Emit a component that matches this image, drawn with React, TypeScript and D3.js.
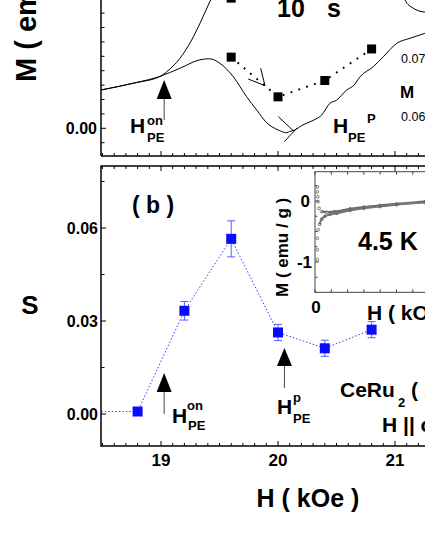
import React from 'react';
import * as d3 from 'd3';

// panel (b): S vs H
const sH = [18.4, 18.8, 19.2, 19.6, 20.0, 20.4, 20.8];
const sVal = [0.0008, 0.0008, 0.0333, 0.0565, 0.0263, 0.0212, 0.0272];
const sErr = [0, 0, 0.003, 0.0058, 0.0026, 0.0026, 0.0026];

// panel (a): M vs H curves (left axis units)
const curveLowH = [18.487, 18.763, 19.0, 19.162, 19.333, 19.413, 19.504, 19.618, 19.732, 19.818, 19.903, 20.003, 20.074, 20.1, 20.145, 20.2, 20.245, 20.3, 20.373, 20.444, 20.5, 20.587, 20.65, 20.701, 20.815, 20.9, 21.015, 21.128, 21.256];
const curveLowM = [0.0266, 0.0313, 0.0363, 0.0417, 0.0476, 0.0483, 0.0451, 0.0358, 0.0219, 0.0127, 0.0039, -0.0012, -0.0031, -0.0022, -0.0012, 0.0018, 0.0035, 0.0055, 0.0092, 0.0174, 0.0195, 0.0266, 0.0300, 0.0358, 0.0428, 0.0497, 0.0590, 0.0625, 0.0660];
const curveUpH = [18.487, 18.763, 19.0, 19.049, 19.162, 19.262, 19.333, 19.404, 19.444];
const curveUpM = [0.0266, 0.0313, 0.0363, 0.0393, 0.0486, 0.0613, 0.0729, 0.0856, 0.0926];
const curveRetH = [21.07, 21.085, 21.154, 21.256];
const curveRetM = [0.095, 0.0891, 0.0835, 0.0806];

// panel (a): squares on right axis
const sqH = [19.6, 20.0, 20.4, 20.8];
const sqM = [0.0702, 0.0634, 0.0662, 0.0716];
const sqTopH = [19.6];
const sqTopM = [0.0803];
const rightTicks = ['0.07', '0.06'];
const rightTickVals = [0.07, 0.06];

// inset: M vs H at 4.5 K
const inUpH = [0.14, 0.14, 0.17, 0.18, 0.25, 0.41, 0.72, 1.2, 2.15, 3.0, 3.99, 5.0, 6.75, 8.0];
const inUpM = [0.23, 0.15, 0.07, -0.01, -0.12, -0.175, -0.185, -0.175, -0.13, -0.1, -0.074, -0.05, -0.011, 0.01];
const inLowH = [0.14, 0.14, 0.14, 0.2, 0.29, 0.41, 0.61, 0.92, 1.35, 2.15, 3.0, 3.99, 5.0, 6.75, 8.0];
const inLowM = [-0.96, -0.8, -0.61, -0.47, -0.38, -0.3, -0.25, -0.22, -0.2, -0.155, -0.12, -0.09, -0.06, -0.025, -0.005];

const xTicks = [19, 20, 21];
const sTicks = [0.0, 0.03, 0.06];
const sTickLabels = ['0.00', '0.03', '0.06'];

const font = '"Liberation Sans", Arial, sans-serif';

function HLabel(props: { x: number; y: number; sup: string; supX: number; supY: number; subX: number; subY: number }) {
  return (
    <g fontFamily={font} fontWeight="bold" fill="#000">
      <text x={props.x} y={props.y} fontSize={21}>H</text>
      <text x={props.supX} y={props.supY} fontSize={13}>{props.sup}</text>
      <text x={props.subX} y={props.subY} fontSize={13}>PE</text>
    </g>
  );
}

export default function App() {
  const x = d3.scaleLinear().domain([19, 21]).range([161, 395]);
  const left = 101;
  const right = 470;

  // panel a
  const yA = d3.scaleLinear().domain([0, 0.01]).range([128.3, 113.9]);
  const yAR = d3.scaleLinear().domain([0.06, 0.07]).range([116.7, 58.3]);
  const aBottom = 156;
  // panel b
  const yB = d3.scaleLinear().domain([0, 0.06]).range([414, 228]);
  const bTop = 166, bBottom = 446;
  // inset
  const xI = d3.scaleLinear().domain([0, 1]).range([315, 331.3]);
  const yI = d3.scaleLinear().domain([0, -1]).range([201, 262]);
  const iTop = 171.7, iBottom = 292.3, iLeft = 315, iRight = 520;

  const minor = d3.range(18.5, 21.75, 0.1).map(v => Math.round(v * 10) / 10);

  const lineA = (hs: number[], ms: number[]) =>
    d3.line<number>().x((_, i) => x(hs[i])).y((_, i) => yA(ms[i])).curve(d3.curveMonotoneX)(hs) || '';
  const lineB = d3.line<number>().x((_, i) => x(sH[i])).y((_, i) => yB(sVal[i]))(sH) || '';
  const lineSq = d3.line<number>().x((_, i) => x(sqH[i])).y((_, i) => yAR(sqM[i]))(sqH) || '';
  const lineI = (hs: number[], ms: number[]) =>
    d3.line<number>().x((_, i) => xI(hs[i])).y((_, i) => yI(ms[i])).curve(d3.curveMonotoneY)(hs) || '';

  const aTicks = d3.range(-0.01, 0.105, 0.01);
  const bTicks = d3.range(-0.0, 0.08, 0.015);
  const iYTicks = d3.range(-1.5, 0.5, 0.25);
  const iXTicks = d3.range(0, 13, 1);

  // filled arrow pointing up with a stem below it
  const arrowUp = (px: number, py: number, tipDrop: number, stemEnd: number) => {
    const baseY = py + tipDrop;
    return (
      <g>
        <line x1={px} x2={px} y1={baseY} y2={stemEnd} stroke="#444" strokeWidth={1} />
        <path d={`M${px},${py} L${px - 7.5},${baseY} L${px + 7.5},${baseY} Z`} fill="#000" />
      </g>
    );
  };

  return (
    <svg width={425} height={550} style={{ position: 'absolute', left: 0, top: 0, background: '#fff' }}>
      <defs>
        <clipPath id="clipA"><rect x={left} y={-30} width={right - left} height={aBottom + 30} /></clipPath>
        <clipPath id="clipB"><rect x={left} y={bTop} width={right - left} height={bBottom - bTop} /></clipPath>
      </defs>

      {/* ---------- panel (a) ---------- */}
      <g clipPath="url(#clipA)">
        <path d={lineA(curveLowH, curveLowM)} fill="none" stroke="#000" strokeWidth={1} />
        <path d={lineA(curveUpH, curveUpM)} fill="none" stroke="#000" strokeWidth={1} />
        <path d={lineA(curveRetH, curveRetM)} fill="none" stroke="#000" strokeWidth={1} />
        <path d={lineSq} fill="none" stroke="#000" strokeWidth={2} strokeDasharray="1.8 6.5" />
        {sqH.map((h, i) => (
          <rect key={i} x={x(h) - 4.5} y={yAR(sqM[i]) - 4.5} width={9} height={9} fill="#000" />
        ))}
        {sqTopH.map((h, i) => (
          <rect key={i} x={x(h) - 4.5} y={yAR(sqTopM[i]) - 4.5} width={9} height={9} fill="#000" />
        ))}
        {/* open arrowhead */}
        <path d={`M${x(19.852)},${yA(0.0417)} L${x(19.889)},${yA(0.0296)} L${x(19.746)},${yA(0.0342)}`} fill="none" stroke="#000" strokeWidth={1} />
        <line x1={x(20.003)} y1={yA(0.0081)} x2={x(20.131)} y2={yA(-0.0017)} stroke="#000" strokeWidth={1} />
        <line x1={x(20.054)} y1={yA(-0.0093)} x2={x(20.16)} y2={yA(0.0)} stroke="#000" strokeWidth={1} />
      </g>
      {arrowUp(x(19.027), yA(0.0335), 19, yA(0.0058))}
      <line x1={left} x2={right} y1={aBottom} y2={aBottom} stroke="#000" strokeWidth={1.5} />
      <line x1={left} x2={left} y1={-5} y2={aBottom} stroke="#000" strokeWidth={1.5} />
      {aTicks.map((t, i) => (
        <line key={i} x1={left} x2={left + (Math.abs(t) < 1e-9 ? 5 : 3.5)} y1={yA(t)} y2={yA(t)} stroke="#000" strokeWidth={1} />
      ))}
      {minor.map((m, i) => (
        <line key={i} x1={x(m)} x2={x(m)} y1={aBottom} y2={aBottom - (Number.isInteger(m) ? 5 : 3)} stroke="#000" strokeWidth={1} />
      ))}
      <text x={97} y={134} textAnchor="end" fontFamily={font} fontWeight="bold" fontSize={16}>0.00</text>
      <text transform="translate(36,82) rotate(-90)" fontFamily={font} fontWeight="bold" fontSize={29}>M ( emu / g )</text>
      <text x={277} y={17} fontFamily={font} fontWeight="bold" fontSize={25}>10</text>
      <text x={327} y={17} fontFamily={font} fontWeight="bold" fontSize={25}>s</text>
      {rightTicks.map((t, i) => (
        <text key={i} x={401} y={yAR(rightTickVals[i]) + 4.5} fontFamily={font} fontSize={12.5}>{t}</text>
      ))}
      <text x={400} y={98} fontFamily={font} fontWeight="bold" fontSize={17}>M</text>
      <HLabel x={130} y={133} sup="on" supX={147} supY={125} subX={147} subY={142} />
      <HLabel x={333} y={133} sup="P" supX={367} supY={123} subX={348} subY={142} />

      {/* ---------- panel (b) ---------- */}
      <g clipPath="url(#clipB)">
        <path d={lineB} fill="none" stroke="#3a3aff" strokeWidth={1} strokeDasharray="1.5 2" />
        {sH.map((h, i) => sErr[i] > 0 ? (
          <g key={i} stroke="#5a5aff" strokeWidth={1}>
            <line x1={x(h)} x2={x(h)} y1={yB(sVal[i] - sErr[i])} y2={yB(sVal[i] + sErr[i])} />
            <line x1={x(h) - 4} x2={x(h) + 4} y1={yB(sVal[i] - sErr[i])} y2={yB(sVal[i] - sErr[i])} />
            <line x1={x(h) - 4} x2={x(h) + 4} y1={yB(sVal[i] + sErr[i])} y2={yB(sVal[i] + sErr[i])} />
          </g>
        ) : null)}
        {sH.map((h, i) => (
          <rect key={i} x={x(h) - 5} y={yB(sVal[i]) - 5} width={10} height={10} fill="#0a0aff" />
        ))}
      </g>
      <rect x={left} y={bTop} width={right - left} height={bBottom - bTop} fill="none" stroke="#000" strokeWidth={1.5} />
      {bTicks.map((t, i) => (
        <line key={i} x1={left} x2={left + (i % 2 === 0 ? 5 : 3.5)} y1={yB(t)} y2={yB(t)} stroke="#000" strokeWidth={1} />
      ))}
      {minor.map((m, i) => (
        <g key={i} stroke="#000" strokeWidth={1}>
          <line x1={x(m)} x2={x(m)} y1={bBottom} y2={bBottom - (Number.isInteger(m) ? 5 : 3)} />
          <line x1={x(m)} x2={x(m)} y1={bTop} y2={bTop + (Number.isInteger(m) ? 5 : 3)} />
        </g>
      ))}
      {sTicks.map((t, i) => (
        <text key={i} x={98} y={yB(t) + 6} textAnchor="end" fontFamily={font} fontWeight="bold" fontSize={16}>{sTickLabels[i]}</text>
      ))}
      {xTicks.map((t, i) => (
        <text key={i} x={x(t)} y={466} textAnchor="middle" fontFamily={font} fontWeight="bold" fontSize={17}>{t}</text>
      ))}
      <text x={308} y={507} textAnchor="middle" fontFamily={font} fontWeight="bold" fontSize={25}>H ( kOe )</text>
      <text x={30} y={314} textAnchor="middle" fontFamily={font} fontWeight="bold" fontSize={26}>S</text>
      <text x={132} y={213} fontFamily={font} fontWeight="bold" fontSize={23}>( b )</text>
      {arrowUp(x(19.027), yB(0.0132), 19, yB(0.0))}
      {arrowUp(x(20.055), yB(0.0213), 18, yB(0.0084))}
      <HLabel x={172} y={423} sup="on" supX={187} supY={410} subX={188} subY={430} />
      <HLabel x={277} y={414} sup="p" supX={293} supY={402} subX={293} subY={423} />
      <text x={340} y={397} fontFamily={font} fontWeight="bold" fontSize={21}>CeRu</text>
      <text x={398} y={407} fontFamily={font} fontWeight="bold" fontSize={13}>2</text>
      <text x={411} y={397} fontFamily={font} fontWeight="bold" fontSize={21}>( 100 )</text>
      <text x={382} y={432} fontFamily={font} fontWeight="bold" fontSize={21}>H || c</text>

      {/* ---------- inset ---------- */}
      <rect x={iLeft} y={iTop} width={iRight - iLeft} height={iBottom - iTop} fill="#fff" stroke="#444" strokeWidth={1} />
      {iYTicks.map((t, i) => (
        <line key={i} x1={iLeft} x2={iLeft + (Number.isInteger(t) ? 4 : 2.5)} y1={yI(t)} y2={yI(t)} stroke="#444" strokeWidth={1} />
      ))}
      {iXTicks.map((t, i) => (
        <g key={i} stroke="#444" strokeWidth={1}>
          <line x1={xI(t)} x2={xI(t)} y1={iTop} y2={iTop + 3} />
          <line x1={xI(t)} x2={xI(t)} y1={iBottom} y2={iBottom - 3} />
        </g>
      ))}
      <path d={lineI(inUpH.slice(5), inUpM.slice(5))} fill="none" stroke="#6e6e6e" strokeWidth={2.4} />
      <path d={lineI(inLowH.slice(4), inLowM.slice(4))} fill="none" stroke="#777" strokeWidth={2} />
      {inUpH.map((h, i) => (
        <circle key={'u' + i} cx={xI(h)} cy={yI(inUpM[i])} r={1.4} fill="none" stroke="#666" strokeWidth={0.9} />
      ))}
      {inLowH.map((h, i) => (
        <circle key={'l' + i} cx={xI(h)} cy={yI(inLowM[i])} r={1.4} fill="none" stroke="#666" strokeWidth={0.9} />
      ))}
      <text x={310} y={207} textAnchor="end" fontFamily={font} fontWeight="bold" fontSize={17}>0</text>
      <text x={312} y={268} textAnchor="end" fontFamily={font} fontWeight="bold" fontSize={17}>-1</text>
      <text x={316} y={313} textAnchor="middle" fontFamily={font} fontWeight="bold" fontSize={17}>0</text>
      <text x={367} y={320} fontFamily={font} fontWeight="bold" fontSize={21}>H ( kOe )</text>
      <text transform="translate(288,297) rotate(-90)" fontFamily={font} fontWeight="bold" fontSize={17}>M ( emu / g )</text>
      <text x={358} y={250} fontFamily={font} fontWeight="bold" fontSize={25}>4.5 K</text>
    </svg>
  );
}
